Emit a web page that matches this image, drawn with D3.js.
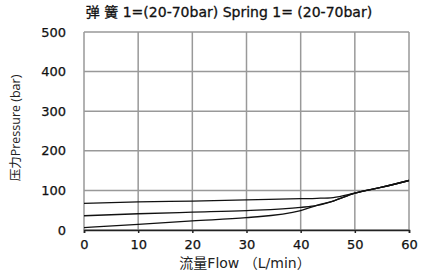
<!DOCTYPE html>
<html>
<head>
<meta charset="utf-8">
<script src="https://cdn.jsdelivr.net/npm/d3@7"></script>
<style>
  body { margin: 0; background: #fff; }
  text { font-family: "DejaVu Sans", "Noto Sans CJK SC", sans-serif; }
</style>
</head>
<body>
<div id="graph"></div>
<script>
// valores
let flujo = [0, 10, 20, 30, 40, 43, 46, 50, 55, 60];
let curvaAlta = [67, 71, 73, 76, 79, 80, 82, 93, 108, 125];
let curvaMedia = [36, 41, 45, 49, 57, 62, 73, 93, 108, 125];
let curvaBaja = [6, 14, 23, 31, 49, 62, 73, 93, 108, 125];
let ticksX = [0, 10, 20, 30, 40, 50, 60];
let ticksY = [0, 100, 200, 300, 400, 500];

var svgWidth = 440;
var svgHeight = 275;
var margin = { top: 32, right: 31, bottom: 45, left: 84 };
var chartWidth = svgWidth - margin.left - margin.right;
var chartHeight = svgHeight - margin.top - margin.bottom;

var svg = d3.select("#graph").append("svg")
  .attr("width", svgWidth)
  .attr("height", svgHeight);

var chartGroup = svg.append("g")
  .attr("transform", `translate(${margin.left}, ${margin.top})`);

var xScale = d3.scaleLinear().domain([0, 60]).range([0, chartWidth]);
var yScale = d3.scaleLinear().domain([0, 500]).range([chartHeight, 0]);

// rejilla
chartGroup.selectAll(".vgrid").data(ticksX).enter().append("line")
  .attr("x1", d => xScale(d)).attr("x2", d => xScale(d))
  .attr("y1", 0).attr("y2", chartHeight)
  .attr("stroke", "#999").attr("stroke-width", 1.5);

chartGroup.selectAll(".hgrid").data(ticksY).enter().append("line")
  .attr("x1", 0).attr("x2", chartWidth)
  .attr("y1", d => yScale(d)).attr("y2", d => yScale(d))
  .attr("stroke", "#999").attr("stroke-width", 1.5);

// ejes
var bottomAxis = d3.axisBottom(xScale).tickValues(ticksX).tickSize(3).tickPadding(7);
var leftAxis = d3.axisLeft(yScale).tickValues(ticksY).tickSize(0).tickPadding(18);

var gx = chartGroup.append("g")
  .attr("transform", `translate(0, ${chartHeight})`)
  .call(bottomAxis);
gx.select(".domain").attr("stroke", "#222").attr("stroke-width", 1.5);
gx.selectAll("line").attr("stroke", "#222").attr("stroke-width", 1.5);
gx.selectAll("text").style("font-size", "13px").attr("fill", "#111")
  .attr("stroke", "#111").attr("stroke-width", 0.25);

var gy = chartGroup.append("g").call(leftAxis);
gy.select(".domain").remove();
gy.selectAll("text").style("font-size", "13px").attr("fill", "#111")
  .attr("stroke", "#111").attr("stroke-width", 0.25);

// curvas
var drawLine = d3.line()
  .x((d, i) => xScale(flujo[i]))
  .y(d => yScale(d))
  .curve(d3.curveMonotoneX);

[curvaAlta, curvaMedia, curvaBaja].forEach(function (serie) {
  chartGroup.append("path")
    .attr("d", drawLine(serie))
    .attr("fill", "none")
    .attr("stroke", "#111")
    .attr("stroke-width", 1.3);
});

// textos
svg.append("text")
  .attr("x", 229).attr("y", 17)
  .attr("text-anchor", "middle")
  .style("font-size", "14px")
  .attr("fill", "#111")
  .attr("stroke", "#111").attr("stroke-width", 0.3)
  .text("弹 簧 1=(20-70bar)  Spring 1= (20-70bar)");

svg.append("text")
  .attr("x", 245).attr("y", 268)
  .attr("text-anchor", "middle")
  .style("font-size", "14px")
  .attr("fill", "#222")
  .text("流量Flow （L/min）");

svg.append("text")
  .attr("transform", "translate(20, 128) rotate(-90)")
  .attr("text-anchor", "middle")
  .style("font-family", "'Open Sans', 'Noto Sans CJK SC', sans-serif")
  .style("font-size", "12.5px")
  .attr("fill", "#222")
  .text("压力Pressure (bar)");
</script>
</body>
</html>
